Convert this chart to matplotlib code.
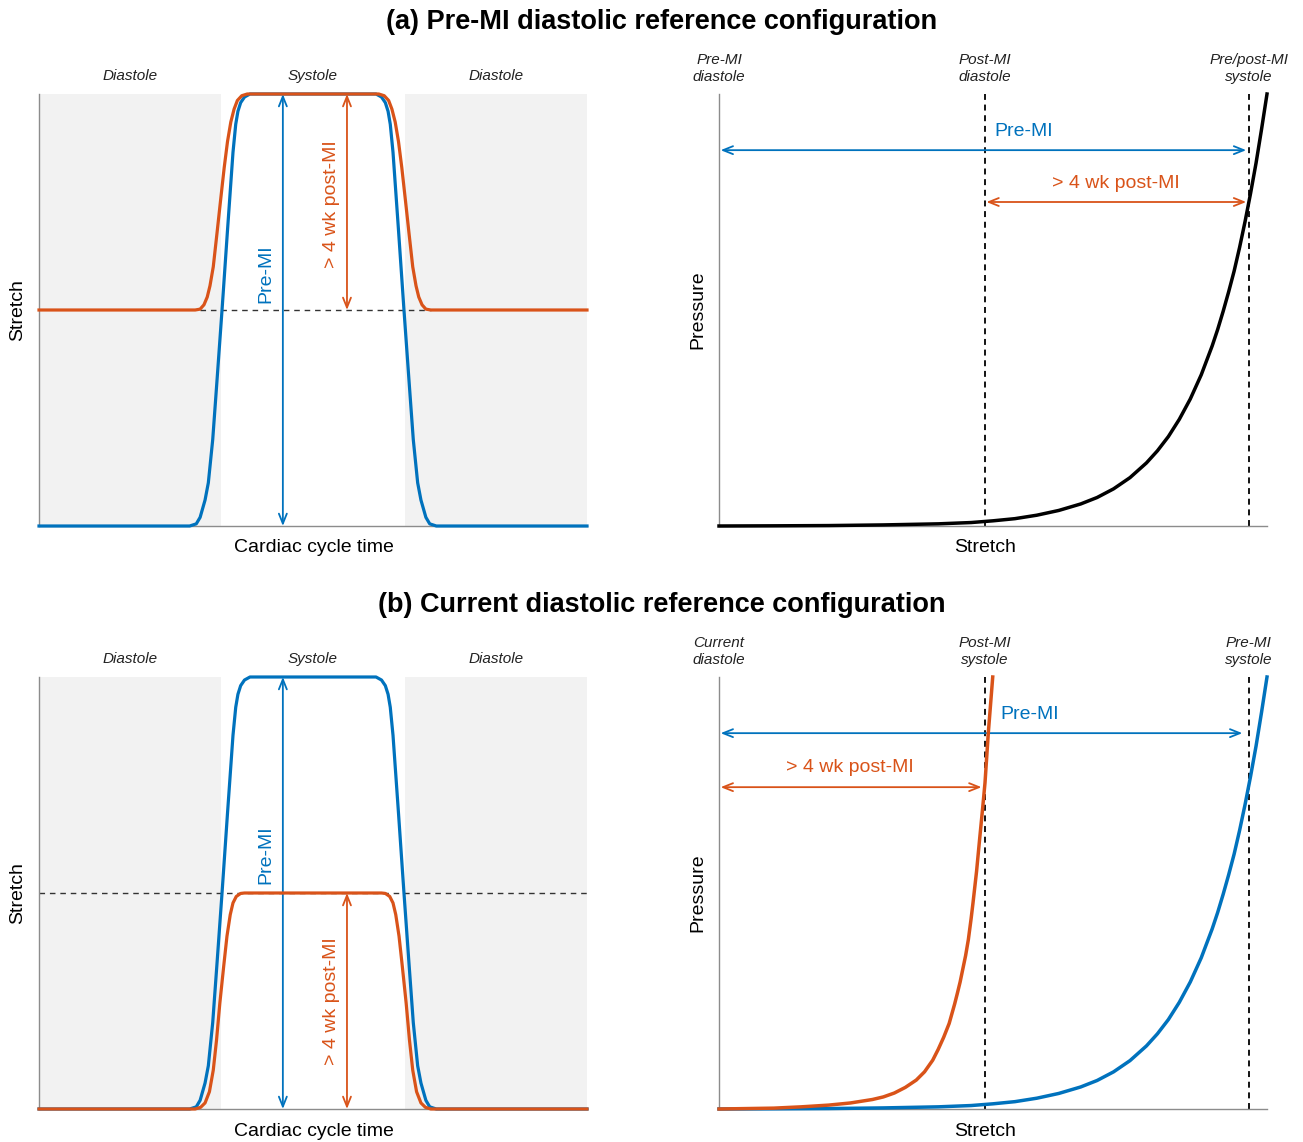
import matplotlib
matplotlib.use('Agg')
import matplotlib.pyplot as plt

plt.rcParams['font.family'] = ['Liberation Sans', 'DejaVu Sans']

BLUE = '#0072BD'
ORANGE = '#D95319'

# cardiac cycle (normalised time) -> stretch
t_pre = [0, 0.275, 0.287, 0.294, 0.303, 0.309, 0.317, 0.325, 0.334, 0.344, 0.354, 0.359, 0.363, 0.368, 0.375, 0.385,
         0.615, 0.625, 0.632, 0.637, 0.641, 0.646, 0.656, 0.666, 0.675, 0.683, 0.691, 0.697, 0.706, 0.713, 0.725, 1]
s_pre = [0, 0, 0.005, 0.02, 0.06, 0.10, 0.20, 0.34, 0.50, 0.685, 0.865, 0.93, 0.96, 0.98, 0.993, 1,
         1, 0.993, 0.98, 0.96, 0.93, 0.865, 0.685, 0.50, 0.34, 0.20, 0.10, 0.06, 0.02, 0.005, 0, 0]

# > 4 wk post-MI, pre-MI diastolic reference
t_post_a = [0, 0.285, 0.294, 0.301, 0.307, 0.312, 0.318, 0.325, 0.331, 0.338, 0.344, 0.350, 0.356, 0.362, 0.370, 0.380,
            0.620, 0.630, 0.638, 0.644, 0.650, 0.656, 0.662, 0.669, 0.675, 0.682, 0.688, 0.693, 0.699, 0.706, 0.715, 1]
s_post_a = [0.5, 0.5, 0.502, 0.512, 0.53, 0.556, 0.60, 0.68, 0.75, 0.83, 0.89, 0.935, 0.965, 0.985, 0.996, 1,
            1, 0.996, 0.985, 0.965, 0.935, 0.89, 0.83, 0.75, 0.68, 0.60, 0.556, 0.53, 0.512, 0.502, 0.5, 0.5]

# > 4 wk post-MI, current diastolic reference
t_post_b = [0, 0.285, 0.295, 0.303, 0.311, 0.318, 0.324, 0.330, 0.337, 0.343, 0.349, 0.354, 0.360, 0.368, 0.375,
            0.625, 0.632, 0.640, 0.646, 0.651, 0.657, 0.663, 0.670, 0.676, 0.682, 0.689, 0.697, 0.705, 0.715, 1]
s_post_b = [0, 0, 0.004, 0.014, 0.04, 0.09, 0.16, 0.245, 0.33, 0.40, 0.45, 0.477, 0.492, 0.499, 0.5,
            0.5, 0.499, 0.492, 0.477, 0.45, 0.40, 0.33, 0.245, 0.16, 0.09, 0.04, 0.014, 0.004, 0, 0]

# pressure-stretch curves
pv_x_pre = [0, 0.10, 0.20, 0.30, 0.40, 0.46, 0.50, 0.54, 0.58, 0.62, 0.66, 0.69, 0.72, 0.75, 0.78, 0.80,
            0.82, 0.84, 0.86, 0.88, 0.90, 0.91, 0.92, 0.93, 0.94, 0.95, 0.96, 0.97, 0.98, 0.99, 1.0]
pv_p_pre = [0, 0.0004, 0.001, 0.0025, 0.005, 0.008, 0.012, 0.017, 0.025, 0.036, 0.051, 0.066, 0.086, 0.112, 0.146,
            0.174, 0.207, 0.247, 0.294, 0.35, 0.417, 0.455, 0.497, 0.542, 0.59, 0.645, 0.705, 0.77, 0.84, 0.918, 1.0]
pv_x_post = [0, 0.05, 0.10, 0.15, 0.20, 0.24, 0.28, 0.30, 0.32, 0.34, 0.36, 0.375, 0.39, 0.40, 0.41, 0.42,
             0.43, 0.435, 0.44, 0.45, 0.455, 0.46, 0.4635, 0.47, 0.476, 0.481, 0.4854, 0.4914, 0.4995]
pv_p_post = [0, 0.001, 0.002, 0.005, 0.009, 0.014, 0.022, 0.028, 0.037, 0.050, 0.067, 0.086, 0.113, 0.138, 0.166,
             0.198, 0.243, 0.268, 0.294, 0.355, 0.392, 0.44, 0.477, 0.55, 0.63, 0.695, 0.755, 0.87, 1.0]

phase_bounds = [0, 0.332, 0.668, 1]
phase_names = ['Diastole', 'Systole', 'Diastole']
ref_x = [0, 0.485, 0.967]
ref_labels_a = ['Pre-MI\ndiastole', 'Post-MI\ndiastole', 'Pre/post-MI\nsystole']
ref_labels_b = ['Current\ndiastole', 'Post-MI\nsystole', 'Pre-MI\nsystole']

W, H = 1303, 1142
fig = plt.figure(figsize=(W / 100, H / 100), dpi=100)


def panel(left, top):
    ax = fig.add_axes([left / W, 1 - (top + 432) / H, 548 / W, 432 / H])
    ax.set_xlim(0, 1)
    ax.set_ylim(0, 1)
    ax.set_xticks([])
    ax.set_yticks([])
    ax.spines['top'].set_visible(False)
    ax.spines['right'].set_visible(False)
    for s in ['left', 'bottom']:
        ax.spines[s].set_color('#8c8c8c')
        ax.spines[s].set_linewidth(1.0)
    return ax


def arrow(ax, p0, p1, color):
    ax.annotate('', xy=p1, xytext=p0,
                arrowprops=dict(arrowstyle='<->,head_length=0.55,head_width=0.22', color=color, lw=1.3,
                                shrinkA=0, shrinkB=0, mutation_scale=13), annotation_clip=False)


def stretch_panel(ax):
    for a, b, name in zip(phase_bounds[:-1], phase_bounds[1:], phase_names):
        if name == 'Diastole':
            ax.axvspan(a, b, color='#f2f2f2', lw=0, zorder=0)
        ax.text((a + b) / 2, 1 + 18 / 432, name, transform=ax.get_xaxis_transform(), ha='center', va='center',
                fontsize=11, style='italic', color='#222222')
    ax.text(0.502, -22 / 432, 'Cardiac cycle time', transform=ax.transAxes, ha='center', va='center', fontsize=14)
    ax.text(-21 / 548, 0.5, 'Stretch', transform=ax.transAxes, rotation=90, ha='center', va='center', fontsize=14)


def pv_panel(ax, labels):
    for x, lab in zip(ref_x, labels):
        if x > 0:
            ax.axvline(x, color='k', lw=1.3, ls=(0, (3.3, 2.6)), zorder=1)
        ax.text(x, 1 + 25.5 / 432, lab, transform=ax.get_xaxis_transform(), ha='center', va='center',
                fontsize=11, style='italic', color='#222222', linespacing=1.3)
    ax.text(0.485, -22 / 432, 'Stretch', transform=ax.transAxes, ha='center', va='center', fontsize=14)
    ax.text(-21 / 548, 0.5, 'Pressure', transform=ax.transAxes, rotation=90, ha='center', va='center', fontsize=14)


# (a) top row
ax1 = panel(39, 94)
stretch_panel(ax1)
ax1.plot([0.294, 0.715], [0.5, 0.5], color='#333333', lw=1.0, ls=(0, (4, 3.5)), zorder=1)
ax1.plot(t_pre, s_pre, color=BLUE, lw=2.3, clip_on=False, zorder=3)
ax1.plot(t_post_a, s_post_a, color=ORANGE, lw=2.3, clip_on=False, zorder=4)
arrow(ax1, (0.445, 0), (0.445, 1), BLUE)
arrow(ax1, (0.562, 0.5), (0.562, 1), ORANGE)
ax1.text(0.414, 0.583, 'Pre-MI', rotation=90, color=BLUE, fontsize=14, ha='center', va='center')
ax1.text(0.533, 0.745, '> 4 wk post-MI', rotation=90, color=ORANGE, fontsize=14, ha='center', va='center')

ax2 = panel(719, 94)
pv_panel(ax2, ref_labels_a)
ax2.plot(pv_x_pre, pv_p_pre, color='black', lw=2.5, clip_on=False, zorder=3)
arrow(ax2, (0.003, 0.87), (0.962, 0.87), BLUE)
arrow(ax2, (0.488, 0.75), (0.962, 0.75), ORANGE)
ax2.text(0.503, 0.914, 'Pre-MI', color=BLUE, fontsize=14, ha='left', va='center')
ax2.text(0.724, 0.792, '> 4 wk post-MI', color=ORANGE, fontsize=14, ha='center', va='center')

# (b) bottom row
ax3 = panel(39, 677)
stretch_panel(ax3)
ax3.plot([0, 1], [0.5, 0.5], color='#333333', lw=1.0, ls=(0, (4, 3.5)), zorder=1)
ax3.plot(t_pre, s_pre, color=BLUE, lw=2.3, clip_on=False, zorder=3)
ax3.plot(t_post_b, s_post_b, color=ORANGE, lw=2.3, clip_on=False, zorder=4)
arrow(ax3, (0.445, 0), (0.445, 1), BLUE)
arrow(ax3, (0.562, 0), (0.562, 0.5), ORANGE)
ax3.text(0.414, 0.588, 'Pre-MI', rotation=90, color=BLUE, fontsize=14, ha='center', va='center')
ax3.text(0.533, 0.25, '> 4 wk post-MI', rotation=90, color=ORANGE, fontsize=14, ha='center', va='center')

ax4 = panel(719, 677)
pv_panel(ax4, ref_labels_b)
ax4.plot(pv_x_pre, pv_p_pre, color=BLUE, lw=2.5, clip_on=False, zorder=3)
ax4.plot(pv_x_post, pv_p_post, color=ORANGE, lw=2.5, clip_on=False, zorder=4)
arrow(ax4, (0.003, 0.87), (0.955, 0.87), BLUE)
arrow(ax4, (0.003, 0.745), (0.479, 0.745), ORANGE)
ax4.text(0.513, 0.914, 'Pre-MI', color=BLUE, fontsize=14, ha='left', va='center')
ax4.text(0.239, 0.79, '> 4 wk post-MI', color=ORANGE, fontsize=14, ha='center', va='center')

fig.text(661.5 / W, 1 - 22 / H, '(a) Pre-MI diastolic reference configuration', ha='center', va='center',
         fontsize=19.5, fontweight='bold')
fig.text(661.5 / W, 1 - 605 / H, '(b) Current diastolic reference configuration', ha='center', va='center',
         fontsize=19.5, fontweight='bold')

fig.savefig('out.png', dpi=100, facecolor='white')
